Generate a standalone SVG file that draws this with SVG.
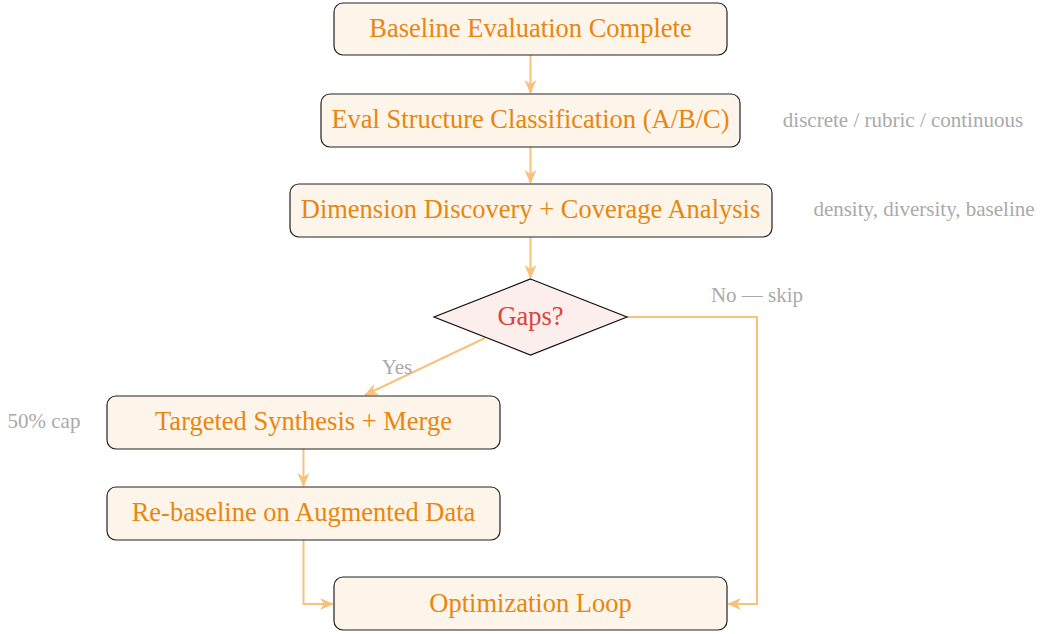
<svg xmlns="http://www.w3.org/2000/svg" width="1041" height="634" viewBox="0 0 1041 634">
<style>
.box{fill:#fdf5ea;stroke:#222;stroke-width:1.2}
.dia{fill:#fdeeee;stroke:#111;stroke-width:1.2}
.t{font-family:"Liberation Serif",serif;font-size:26.5px;fill:#e8860f;text-anchor:middle;dominant-baseline:central}
.td{font-family:"Liberation Serif",serif;font-size:26.5px;fill:#d9443c;text-anchor:middle;dominant-baseline:central}
.a{font-family:"Liberation Serif",serif;font-size:21px;fill:#aaaaaa}
.c{fill:none;stroke:#f8c27c;stroke-width:2}
</style>
<defs>
<marker id="ah" viewBox="0 0 14 14" refX="13" refY="7" markerWidth="14" markerHeight="14" markerUnits="userSpaceOnUse" orient="auto">
<path d="M0,1 L14,7 L0,13 L4,7 Z" fill="#f8c27c"/>
</marker>
</defs>
<g id="connectors">
<path class="c" d="M530.5,55 V93" marker-end="url(#ah)"/>
<path class="c" d="M530.5,147 V183" marker-end="url(#ah)"/>
<path class="c" d="M530.5,237 V278" marker-end="url(#ah)"/>
<path class="c" d="M485,338 L365,395" marker-end="url(#ah)"/>
<path class="c" d="M303.5,449 V486" marker-end="url(#ah)"/>
<path class="c" d="M303.5,540 V604 H333" marker-end="url(#ah)"/>
<path class="c" d="M627,317 H757 V604 H728" marker-end="url(#ah)"/>
<text class="a" x="397" y="374" text-anchor="middle">Yes</text>
<text class="a" x="757" y="302" text-anchor="middle">No — skip</text>
</g>
<g id="n1"><rect class="box" x="334" y="3" width="393" height="52" rx="9"/><text class="t" x="530.5" y="28">Baseline Evaluation Complete</text></g>
<g id="n2"><rect class="box" x="321" y="94" width="419" height="53" rx="9"/><text class="t" x="530.5" y="119">Eval Structure Classification (A/B/C)</text><text class="a" x="903" y="127" text-anchor="middle">discrete / rubric / continuous</text></g>
<g id="n3"><rect class="box" x="290" y="184" width="482" height="53" rx="9"/><text class="t" x="530.5" y="209">Dimension Discovery + Coverage Analysis</text><text class="a" x="924" y="216" text-anchor="middle">density, diversity, baseline</text></g>
<g id="n4"><polygon class="dia" points="530.5,279 627,317 530.5,355 434,317"/><text class="td" x="530.5" y="316">Gaps?</text></g>
<g id="n5"><rect class="box" x="107" y="396" width="393" height="53" rx="9"/><text class="t" x="303.5" y="421">Targeted Synthesis + Merge</text><text class="a" x="44" y="428" text-anchor="middle">50% cap</text></g>
<g id="n6"><rect class="box" x="107" y="487" width="393" height="53" rx="9"/><text class="t" x="303.5" y="512">Re-baseline on Augmented Data</text></g>
<g id="n7"><rect class="box" x="334" y="577" width="393" height="53" rx="9"/><text class="t" x="530.5" y="603">Optimization Loop</text></g>
</svg>
